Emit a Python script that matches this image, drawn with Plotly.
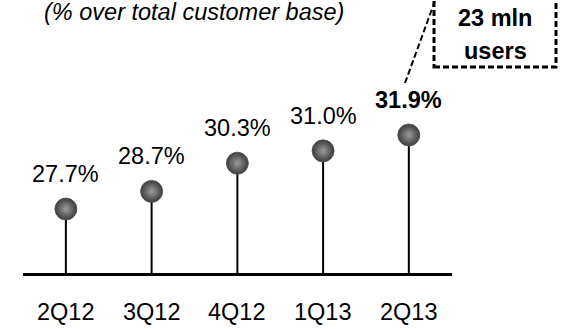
import plotly.graph_objects as go

categories = ["2Q12", "3Q12", "4Q12", "1Q13", "2Q13"]
values = [27.7, 28.7, 30.3, 31.0, 31.9]
value_labels = ["27.7%", "28.7%", "30.3%", "31.0%", "<b>31.9%</b>"]
base_value = 24.04
subtitle = "(% over total customer base)"
callout_lines = ["23 mln", "users"]

W, H = 562, 329
FONT = "Liberation Sans, Arial, sans-serif"
FS = 23.5

xs = list(range(len(categories)))

fig = go.Figure()

# stems
sx, sy = [], []
for i, v in zip(xs, values):
    sx += [i, i, None]
    sy += [base_value, v, None]
fig.add_trace(go.Scatter(x=sx, y=sy, mode="lines",
                         line=dict(color="black", width=2),
                         hoverinfo="skip", showlegend=False, cliponaxis=False))

# balls
fig.add_trace(go.Scatter(x=xs, y=values, mode="markers",
                         marker=dict(size=22, color="#3c3c3c",
                                     gradient=dict(type="radial", color="#9c9c9c"),
                                     line=dict(color="#505050", width=0.8)),
                         hoverinfo="skip", showlegend=False, cliponaxis=False))

annotations = []
for i, v, t in zip(xs, values, value_labels):
    annotations.append(dict(x=i, y=v, xref="x", yref="y", text=t, showarrow=False,
                            yshift=35, yanchor="middle", xanchor="center",
                            font=dict(family=FONT, size=FS, color="black")))
for i, c in zip(xs, categories):
    annotations.append(dict(x=i, y=base_value, xref="x", yref="y", text=c, showarrow=False,
                            yshift=-38, yanchor="middle", xanchor="center",
                            font=dict(family=FONT, size=FS, color="black")))

annotations.append(dict(x=42 / W, y=1 - 12 / H, xref="paper", yref="paper",
                        text="<i>" + subtitle + "</i>", showarrow=False,
                        xanchor="left", yanchor="middle",
                        font=dict(family=FONT, size=FS, color="black")))
for j, line in enumerate(callout_lines):
    annotations.append(dict(x=495 / W, y=1 - (18 + 33 * j) / H, xref="paper", yref="paper",
                            text="<b>" + line + "</b>", showarrow=False,
                            xanchor="center", yanchor="middle",
                            font=dict(family=FONT, size=FS, color="black")))

shapes = [
    dict(type="rect", xref="paper", yref="paper",
         x0=434 / W, x1=556 / W, y0=1 - 67 / H, y1=1 + 6 / H,
         line=dict(color="black", width=3, dash="6px,3px"), fillcolor="rgba(0,0,0,0)"),
    dict(type="line", xref="paper", yref="paper",
         x0=405 / W, y0=1 - 83 / H, x1=436 / W, y1=1 + 2 / H,
         line=dict(color="black", width=2, dash="6px,3px")),
]

span = H / 17.62
y0 = base_value - (H - 273.5) / 17.62

fig.update_layout(
    width=W, height=H, margin=dict(l=0, r=0, t=0, b=0),
    paper_bgcolor="white", plot_bgcolor="white",
    xaxis=dict(domain=[23 / W, 451.7 / W], range=[-0.5, 4.5],
               showline=True, linecolor="black", linewidth=2.7,
               anchor="free", position=(H - 273.5) / H,
               showgrid=False, zeroline=False, showticklabels=False, ticks=""),
    yaxis=dict(range=[y0, y0 + span], visible=False, showgrid=False, zeroline=False),
    annotations=annotations, shapes=shapes, showlegend=False,
)

fig.write_html("out.html")
